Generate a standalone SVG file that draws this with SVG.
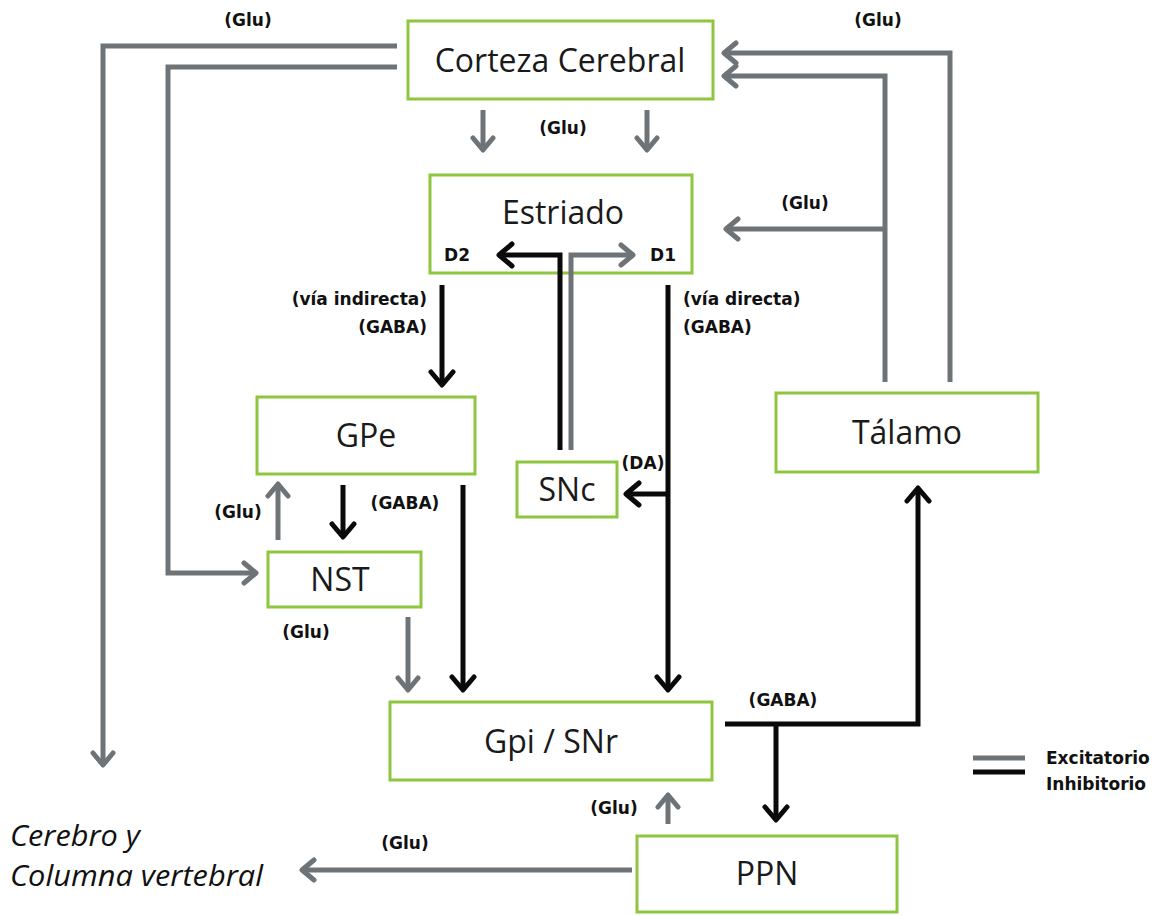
<svg xmlns="http://www.w3.org/2000/svg" width="1161" height="916" viewBox="0 0 1161 916">
<style>
.box{fill:#fff;stroke:#8dc63f;stroke-width:3}
.nt{font-family:"Open Sans","Liberation Sans",sans-serif;font-size:32px;fill:#1a1a1a;text-anchor:middle}
.lb{font-family:"DejaVu Sans","Liberation Sans",sans-serif;font-size:17px;font-weight:bold;fill:#111}
.exc{fill:none;stroke:#6e7377;stroke-width:5}
.inh{fill:none;stroke:#0a0a0a;stroke-width:5}
.it{font-family:"Open Sans","Liberation Sans",sans-serif;font-style:italic;font-size:30px;fill:#111}
</style>
<defs>
<marker id="ag" markerUnits="userSpaceOnUse" markerWidth="26" markerHeight="26" viewBox="0 0 26 26" refX="22" refY="13" orient="auto">
<path d="M10,3 L22,13 L10,23" fill="none" stroke="#6e7377" stroke-width="5" stroke-linejoin="round" stroke-linecap="round"/>
</marker>
<marker id="ab" markerUnits="userSpaceOnUse" markerWidth="28" markerHeight="28" viewBox="0 0 28 28" refX="24" refY="14" orient="auto">
<path d="M11,3 L24,14 L11,25" fill="none" stroke="#0a0a0a" stroke-width="5" stroke-linejoin="round" stroke-linecap="round"/>
</marker>
</defs>
<rect width="1161" height="916" fill="#fff"/>
<g id="corteza"><rect class="box" x="408" y="21" width="305" height="78"/><text class="nt" x="560" y="72">Corteza Cerebral</text></g>
<g id="estriado"><rect class="box" x="430" y="175" width="262" height="98"/><text class="nt" x="563" y="224" font-size="27">Estriado</text></g>
<g id="gpe"><rect class="box" x="257" y="397" width="218" height="77"/><text class="nt" x="366" y="447">GPe</text></g>
<g id="snc"><rect class="box" x="517" y="462" width="100" height="55"/><text class="nt" x="567" y="501">SNc</text></g>
<g id="talamo"><rect class="box" x="776" y="393" width="262" height="79"/><text class="nt" x="907" y="444">Tálamo</text></g>
<g id="nst"><rect class="box" x="268" y="552" width="153" height="55"/><text class="nt" x="340" y="591">NST</text></g>
<g id="gpisnr"><rect class="box" x="390" y="702" width="322" height="78"/><text class="nt" x="551" y="753">Gpi / SNr</text></g>
<g id="ppn"><rect class="box" x="637" y="836" width="260" height="76"/><text class="nt" x="767" y="885">PPN</text></g>
<g id="connectors">
<path class="exc" d="M397,46 H103 V765" marker-end="url(#ag)"/>
<path class="exc" d="M397,67 H168 V573 H256" marker-end="url(#ag)"/>
<path class="exc" d="M483,110 V150" marker-end="url(#ag)"/>
<path class="exc" d="M647,110 V150" marker-end="url(#ag)"/>
<path class="exc" d="M950,382 V53 H724" marker-end="url(#ag)"/>
<path class="exc" d="M885,382 V76 H724" marker-end="url(#ag)"/>
<path class="exc" d="M885,229 H726" marker-end="url(#ag)"/>
<path class="exc" d="M571,450 V255 H633" marker-end="url(#ag)"/>
<path class="exc" d="M278,540 V484" marker-end="url(#ag)"/>
<path class="exc" d="M408,617 V690" marker-end="url(#ag)"/>
<path class="exc" d="M668,824 V795" marker-end="url(#ag)"/>
<path class="exc" d="M632,870 H302" marker-end="url(#ag)"/>
<path class="inh" d="M560,450 V255 H499" marker-end="url(#ab)"/>
<path class="inh" d="M442,285 V385" marker-end="url(#ab)"/>
<path class="inh" d="M668,285 V690" marker-end="url(#ab)"/>
<path class="inh" d="M668,494 H626" marker-end="url(#ab)"/>
<path class="inh" d="M343,485 V537" marker-end="url(#ab)"/>
<path class="inh" d="M463,485 V690" marker-end="url(#ab)"/>
<path class="inh" d="M725,724 H918 V488" marker-end="url(#ab)"/>
<path class="inh" d="M776,724 V820" marker-end="url(#ab)"/>
</g>
<g id="labels">
<text class="lb" x="248" y="26" text-anchor="middle">(Glu)</text>
<text class="lb" x="878" y="26" text-anchor="middle">(Glu)</text>
<text class="lb" x="563" y="134" text-anchor="middle">(Glu)</text>
<text class="lb" x="805" y="209" text-anchor="middle">(Glu)</text>
<text class="lb" x="457" y="261" text-anchor="middle">D2</text>
<text class="lb" x="663" y="261" text-anchor="middle">D1</text>
<text class="lb" x="427" y="305" text-anchor="end">(vía indirecta)</text>
<text class="lb" x="427" y="333" text-anchor="end">(GABA)</text>
<text class="lb" x="683" y="305">(vía directa)</text>
<text class="lb" x="683" y="333">(GABA)</text>
<text class="lb" x="643" y="469" text-anchor="middle">(DA)</text>
<text class="lb" x="405" y="509" text-anchor="middle">(GABA)</text>
<text class="lb" x="238" y="518" text-anchor="middle">(Glu)</text>
<text class="lb" x="306" y="638" text-anchor="middle">(Glu)</text>
<text class="lb" x="783" y="706" text-anchor="middle">(GABA)</text>
<text class="lb" x="614" y="814" text-anchor="middle">(Glu)</text>
<text class="lb" x="405" y="849" text-anchor="middle">(Glu)</text>
</g>
<g id="cerebro"><text class="it" x="10" y="846" textLength="130" lengthAdjust="spacingAndGlyphs">Cerebro y</text><text class="it" x="10" y="886" textLength="253" lengthAdjust="spacingAndGlyphs">Columna vertebral</text></g>
<g id="legend">
<line x1="973" y1="758" x2="1025" y2="758" class="exc"/>
<line x1="973" y1="772" x2="1025" y2="772" class="inh"/>
<text class="lb" x="1046" y="764">Excitatorio</text>
<text class="lb" x="1046" y="790">Inhibitorio</text>
</g>
</svg>
